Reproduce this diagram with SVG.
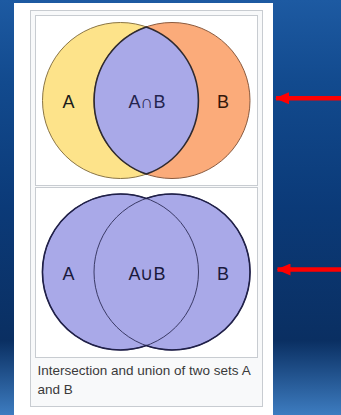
<svg xmlns="http://www.w3.org/2000/svg" width="341" height="415" viewBox="0 0 341 415">
  <defs>
    <linearGradient id="sea" x1="0" y1="0" x2="0" y2="1">
      <stop offset="0" stop-color="#1d5aa2"/>
      <stop offset="0.2" stop-color="#124a8e"/>
      <stop offset="0.5" stop-color="#0b3a78"/>
      <stop offset="0.82" stop-color="#0a2f62"/>
      <stop offset="1" stop-color="#3d7cc0"/>
    </linearGradient>
    <marker id="head" viewBox="0 0 14 12" refX="13" refY="6" markerWidth="14" markerHeight="12" markerUnits="userSpaceOnUse" orient="auto">
      <path d="M0 0 L14 6 L0 12 Z" fill="#ff0000"/>
    </marker>
  </defs>
  <style>
    .frame { fill: #f8f9fa; stroke: #c8ccd1; stroke-width: 1; }
    .box { fill: #ffffff; stroke: #c8ccd1; stroke-width: 1; }
    .lbl { font-family: "Liberation Sans", Arial, sans-serif; font-size: 18px; text-anchor: middle; }
    .cap { font-family: "Liberation Sans", Arial, sans-serif; font-size: 13.5px; fill: #3a3a3a; }
    .arrow { stroke: #ff0000; stroke-width: 4.5; fill: none; }
  </style>

  <!-- backdrop and page -->
  <rect x="0" y="0" width="341" height="415" fill="url(#sea)"/>
  <rect x="14" y="3" width="259" height="412" fill="#ffffff"/>
  <rect class="frame" x="30.5" y="10.5" width="232" height="396"/>

  <!-- intersection figure -->
  <g id="intersection">
    <rect class="box" x="35.5" y="15.5" width="222" height="170"/>
    <circle cx="120.5" cy="100.5" r="78" fill="#fde38a" stroke="#8a7545" stroke-width="1"/>
    <circle cx="172" cy="100.5" r="78" fill="#fbab7a" stroke="#8a5a3e" stroke-width="1"/>
    <path d="M146.25 26.9 A78 78 0 0 1 146.25 174.1 A78 78 0 0 1 146.25 26.9 Z" fill="#a9a9e8" stroke="#2e2a30" stroke-width="1.6"/>
    <text class="lbl" x="68.5" y="108" fill="#1a1a1a">A</text>
    <text class="lbl" x="147" y="108" fill="#24244e">A∩B</text>
    <text class="lbl" x="223" y="108" fill="#34180a">B</text>
  </g>

  <!-- union figure -->
  <g id="union">
    <rect class="box" x="35.5" y="187.5" width="222" height="170"/>
    <circle cx="120.5" cy="272" r="78" fill="#a9a9e8"/>
    <circle cx="172" cy="272" r="78" fill="#a9a9e8"/>
    <circle cx="120.5" cy="272" r="78" fill="none" stroke="#3a3a66" stroke-width="1"/>
    <circle cx="172" cy="272" r="78" fill="none" stroke="#3a3a66" stroke-width="1"/>
    <path d="M146.25 198.4 A78 78 0 1 0 146.25 345.6 A78 78 0 1 0 146.25 198.4 Z" fill="none" stroke="#202048" stroke-width="1.6"/>
    <text class="lbl" x="68.5" y="279.5" fill="#1a1a3c">A</text>
    <text class="lbl" x="147" y="279.5" fill="#1a1a3c">A∪B</text>
    <text class="lbl" x="223" y="279.5" fill="#1a1a3c">B</text>
  </g>

  <!-- caption -->
  <g id="caption">
    <text class="cap" x="37.5" y="375">Intersection and union of two sets A</text>
    <text class="cap" x="37.5" y="393.5">and B</text>
  </g>

  <!-- pointers -->
  <g id="connectors">
    <line class="arrow" x1="341" y1="98.3" x2="276" y2="98.3" marker-end="url(#head)"/>
    <line class="arrow" x1="341" y1="269.5" x2="277.5" y2="269.5" marker-end="url(#head)"/>
  </g>
</svg>
